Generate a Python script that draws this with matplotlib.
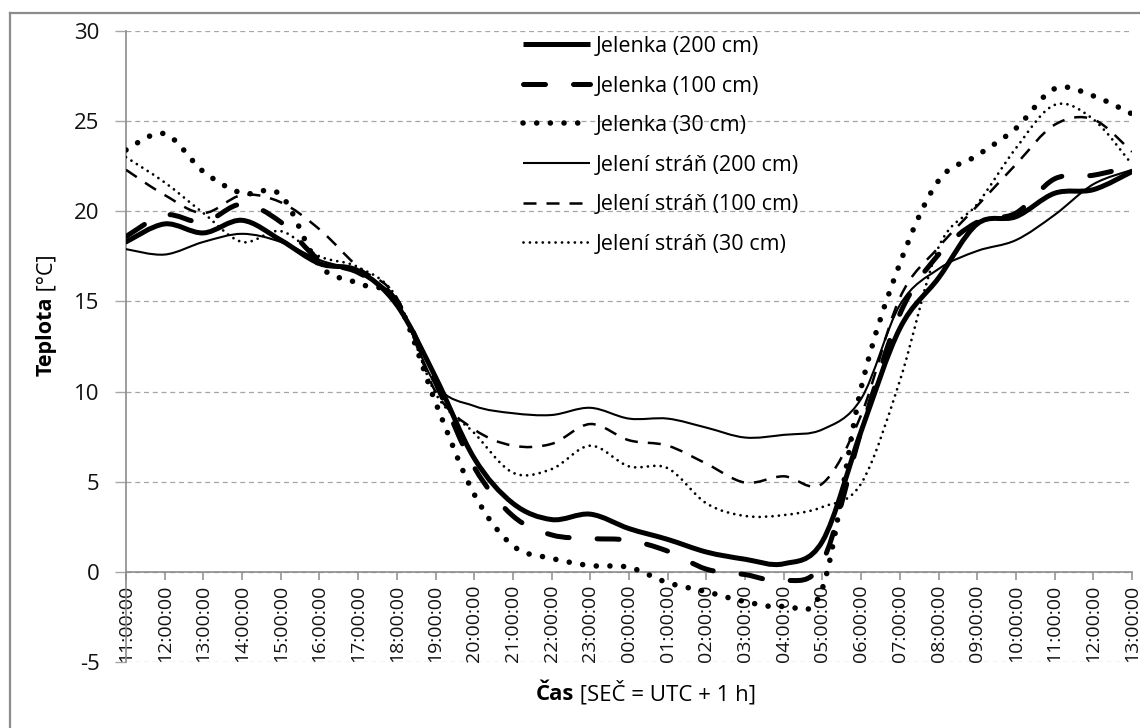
import numpy as np
import matplotlib
matplotlib.use("Agg")
import matplotlib.pyplot as plt
from matplotlib.path import Path
from matplotlib.patches import PathPatch
from matplotlib.lines import Line2D

plt.rcParams['font.family'] = ['Open Sans', 'DejaVu Sans']

# hourly readings, 11:00 on day one to 13:00 on day two
hours = list(range(27))
hour_labels = ["11:00:00", "12:00:00", "13:00:00", "14:00:00", "15:00:00", "16:00:00",
               "17:00:00", "18:00:00", "19:00:00", "20:00:00", "21:00:00", "22:00:00",
               "23:00:00", "00:00:00", "01:00:00", "02:00:00", "03:00:00", "04:00:00",
               "05:00:00", "06:00:00", "07:00:00", "08:00:00", "09:00:00", "10:00:00",
               "11:00:00", "12:00:00", "13:00:00"]

jelenka_200 = [18.3, 19.3, 18.8, 19.5, 18.4, 17.1, 16.7, 14.8, 10.8, 6.3, 3.8, 2.9, 3.2, 2.4,
               1.8, 1.1, 0.7, 0.45, 1.7, 7.8, 13.5, 16.3, 19.3, 19.7, 21.0, 21.2, 22.2]
jelenka_100 = [18.6, 19.8, 19.4, 20.4, 19.4, 17.3, 16.6, 15.0, 10.5, 5.8, 3.1, 2.05, 1.85, 1.75,
               1.15, 0.15, -0.15, -0.5, 0.55, 7.8, 14.3, 17.6, 19.4, 19.9, 21.8, 22.0, 22.5]
jelenka_30 = [23.4, 24.3, 22.2, 21.0, 20.9, 17.0, 16.0, 15.0, 9.4, 4.3, 1.45, 0.75, 0.35, 0.25,
              -0.6, -1.1, -1.65, -1.9, -0.9, 10.2, 17.1, 21.7, 23.1, 24.6, 26.8, 26.4, 25.4]
strana_200 = [17.9, 17.6, 18.3, 18.75, 18.3, 17.3, 16.6, 15.0, 10.4, 9.2, 8.8, 8.7, 9.1, 8.5,
              8.5, 8.0, 7.45, 7.6, 7.9, 9.6, 14.8, 16.8, 17.8, 18.4, 19.8, 21.5, 22.3]
strana_100 = [22.3, 20.9, 19.9, 20.9, 20.5, 19.0, 16.9, 15.2, 10.0, 7.9, 7.0, 7.1, 8.2, 7.3,
              7.0, 6.0, 4.95, 5.3, 4.9, 8.7, 15.2, 18.0, 20.3, 22.6, 24.8, 25.1, 23.3]
strana_30 = [23.0, 21.6, 19.9, 18.3, 18.9, 17.5, 16.9, 15.2, 9.9, 7.7, 5.5, 5.7, 7.0, 5.85,
             5.75, 3.8, 3.1, 3.15, 3.6, 4.9, 10.6, 18.0, 20.4, 23.5, 25.9, 25.1, 22.6]

series_names = ["Jelenka (200 cm)", "Jelenka (100 cm)", "Jelenka (30 cm)",
                "Jelení stráň (200 cm)", "Jelení stráň (100 cm)", "Jelení stráň (30 cm)"]
series_values = [jelenka_200, jelenka_100, jelenka_30, strana_200, strana_100, strana_30]

# line look per series: width, dash pattern (None = solid), cap style
styles = [
    dict(lw=3.6, dash=None, cap='round'),
    dict(lw=3.6, dash=(4.4, 5.6), cap='round'),
    dict(lw=4.0, dash=(0.01, 2.45), cap='round'),
    dict(lw=1.5, dash=None, cap='round'),
    dict(lw=1.8, dash=(5.2, 4.0), cap='butt'),
    dict(lw=2.0, dash=(0.01, 2.3), cap='round'),
]


def smooth_path(x, y):
    # smoothed line like a spreadsheet chart: cubic Bezier through every point
    pts = np.column_stack([x, y]).astype(float)
    n = len(pts)
    verts = [pts[0]]
    codes = [Path.MOVETO]
    for i in range(n - 1):
        p0 = pts[i - 1] if i > 0 else pts[i]
        p1, p2 = pts[i], pts[i + 1]
        p3 = pts[i + 2] if i + 2 < n else pts[i + 1]
        verts += [p1 + (p2 - p0) / 6, p2 - (p3 - p1) / 6, p2]
        codes += [Path.CURVE4] * 3
    return Path(verts, codes)


W, H = 1140, 728
fig = plt.figure(figsize=(W / 100, H / 100), dpi=100, facecolor='white')
ax = fig.add_axes([126 / W, 1 - 662 / H, (1132 - 126) / W, (662 - 31) / H])

handles = []
for vals, st in zip(series_values, styles):
    ls = '-' if st['dash'] is None else (0, st['dash'])
    patch = PathPatch(smooth_path(hours, vals), fill=False, edgecolor='black',
                      linewidth=st['lw'], linestyle=ls, capstyle=st['cap'],
                      joinstyle='round', zorder=3)
    ax.add_patch(patch)
    handles.append(Line2D([], [], color='black', linewidth=st['lw'], linestyle=ls,
                          dash_capstyle=st['cap'], solid_capstyle='butt'))

ax.set_xlim(0, 26)
ax.set_ylim(-5, 30)

ax.set_xticks(hours)
ax.set_xticklabels(hour_labels)
ax.set_yticks(range(-5, 31, 5))
ax.set_yticklabels([str(v) for v in range(-5, 31, 5)])

ax.spines['top'].set_visible(False)
ax.spines['right'].set_visible(False)
ax.spines['bottom'].set_position(('data', 0))
for s in ('bottom', 'left'):
    ax.spines[s].set_color('#8c8c8c')
    ax.spines[s].set_linewidth(1.2)

ax.tick_params(axis='x', direction='out', length=6, width=1.1, color='#8c8c8c',
               pad=3, labelrotation=90, labelsize=14, labelcolor='#111111')
ax.tick_params(axis='y', direction='out', length=8, width=1.0, color='#a6a6a6',
               pad=11, labelsize=16, labelcolor='#111111')

ax.yaxis.grid(True, linestyle=(0, (4, 3)), color='#a6a6a6', linewidth=0.9)
ax.set_axisbelow(True)

ax.legend(handles, series_names, loc='upper left',
          bbox_to_anchor=(523 / W, 1 - 36 / H), bbox_transform=fig.transFigure,
          frameon=False, fontsize=15.5, handlelength=3.1, handletextpad=0.3,
          labelspacing=0.86, borderpad=0, borderaxespad=0)

# axis titles with a bold lead word
fig.text(52 / W, 1 - 297 / H, "Teplota", rotation=90, rotation_mode='anchor',
         ha='right', va='baseline', fontsize=15.5, fontweight='bold')
fig.text(52 / W, 1 - 297 / H, " [°C]", rotation=90, rotation_mode='anchor',
         ha='left', va='baseline', fontsize=15.5)
fig.text(574 / W, 1 - 700 / H, "Čas", ha='right', va='baseline',
         fontsize=16, fontweight='bold')
fig.text(574 / W, 1 - 700 / H, " [SEČ = UTC + 1 h]", ha='left', va='baseline',
         fontsize=16)

# chart area border
fig.add_artist(Line2D([10 / W, 10 / W], [0, 1 - 13 / H], color='#8c8c8c', linewidth=1.6))
fig.add_artist(Line2D([10 / W, 1], [1 - 13 / H, 1 - 13 / H], color='#8c8c8c', linewidth=1.6))

fig.savefig("out.png", dpi=100)
